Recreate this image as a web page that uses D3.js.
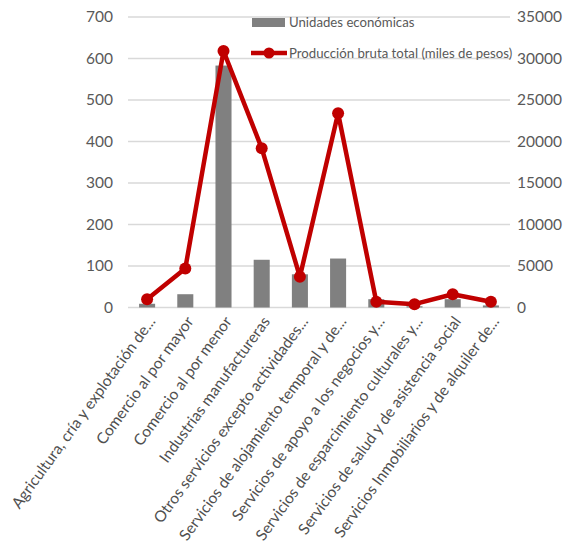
<!DOCTYPE html>
<html><head><meta charset="utf-8">
<script src="https://cdn.jsdelivr.net/npm/d3@7"></script>
<style>body{margin:0;background:#fff;} svg{display:block;font-family:Lato,"Open Sans",sans-serif;}</style>
</head><body>
<svg id="c" width="574" height="550"></svg>
<script>
const categories = [
  "Agricultura, cría y explotación de...",
  "Comercio al por mayor",
  "Comercio al por menor",
  "Industrias manufactureras",
  "Otros servicios excepto actividades...",
  "Servicios de alojamiento temporal y de...",
  "Servicios de apoyo a los negocios y...",
  "Servicios de esparcimiento culturales y...",
  "Servicios de salud y de asistencia social",
  "Servicios Inmobiliarios y de alquiler de..."
];
const unidades = [9, 32, 583, 115, 80, 118, 20, 3, 20, 5];
const produccion = [1000, 4700, 30900, 19200, 3700, 23400, 700, 400, 1600, 700];
const leftTicks = [0, 100, 200, 300, 400, 500, 600, 700];
const rightTicks = [0, 5000, 10000, 15000, 20000, 25000, 30000, 35000];
const seriesNames = ["Unidades económicas", "Producción bruta total (miles de pesos)"];

const svg = d3.select("#c");
const L = 128, R = 510, T = 17, B = 307.5;
const x = d3.scaleBand().domain(categories).range([L, R]).paddingInner(0.58).paddingOuter(0.29);
const yL = d3.scaleLinear().domain([0, 700]).range([B, T]);
const yR = d3.scaleLinear().domain([0, 35000]).range([B, T]);
const textCol = "#595959";

// gridlines
svg.append("g").selectAll("line").data(leftTicks).join("line")
  .attr("x1", L).attr("x2", R).attr("y1", d => yL(d)).attr("y2", d => yL(d))
  .attr("stroke", "#d9d9d9").attr("stroke-width", 1.5);

// left axis
const gl = svg.append("g").attr("transform", `translate(${L},0)`)
  .call(d3.axisLeft(yL).tickValues(leftTicks).tickSize(0).tickPadding(15));
gl.select(".domain").remove();
gl.selectAll("text").attr("fill", textCol).style("font-size", "15.5px").style("font-family", "Lato");

// right axis
const gr = svg.append("g").attr("transform", `translate(${R},0)`)
  .call(d3.axisRight(yR).tickValues(rightTicks).tickFormat(d3.format("d")).tickSize(0).tickPadding(7));
gr.select(".domain").remove();
gr.selectAll("text").attr("fill", textCol).style("font-size", "15.5px").style("font-family", "Lato");

// bars
svg.append("g").selectAll("rect").data(unidades).join("rect")
  .attr("x", (d, i) => x(categories[i]))
  .attr("width", x.bandwidth())
  .attr("y", d => yL(d))
  .attr("height", d => B - yL(d))
  .attr("fill", "#808080");

// line
const cx = i => x(categories[i]) + x.bandwidth() / 2;
svg.append("path").datum(produccion)
  .attr("d", d3.line().x((d, i) => cx(i)).y(d => yR(d)))
  .attr("fill", "none").attr("stroke", "#c00000").attr("stroke-width", 4.5).attr("stroke-linejoin", "round");
svg.append("g").selectAll("circle").data(produccion).join("circle")
  .attr("cx", (d, i) => cx(i)).attr("cy", d => yR(d)).attr("r", 6).attr("fill", "#c00000");

// category labels
svg.append("g").selectAll("text").data(categories).join("text")
  .attr("transform", (d, i) => `translate(${cx(i) + 9},${B + 14}) rotate(-54)`)
  .attr("text-anchor", "end")
  .attr("fill", "#505050").style("font-size", "15.5px")
  .text(d => d);

// legend
const lg = svg.append("g");
lg.append("rect").attr("x", 252).attr("y", 18).attr("width", 33).attr("height", 9).attr("fill", "#808080");
lg.append("text").attr("x", 289).attr("y", 27).attr("fill", textCol).style("font-size", "13.2px").text(seriesNames[0]);
lg.append("line").attr("x1", 251).attr("x2", 287).attr("y1", 53).attr("y2", 53).attr("stroke", "#c00000").attr("stroke-width", 4.5);
lg.append("circle").attr("cx", 269).attr("cy", 53).attr("r", 5.5).attr("fill", "#c00000");
lg.append("text").attr("x", 289).attr("y", 58).attr("fill", textCol).style("font-size", "13.2px").text(seriesNames[1]);
</script>
</body></html>
